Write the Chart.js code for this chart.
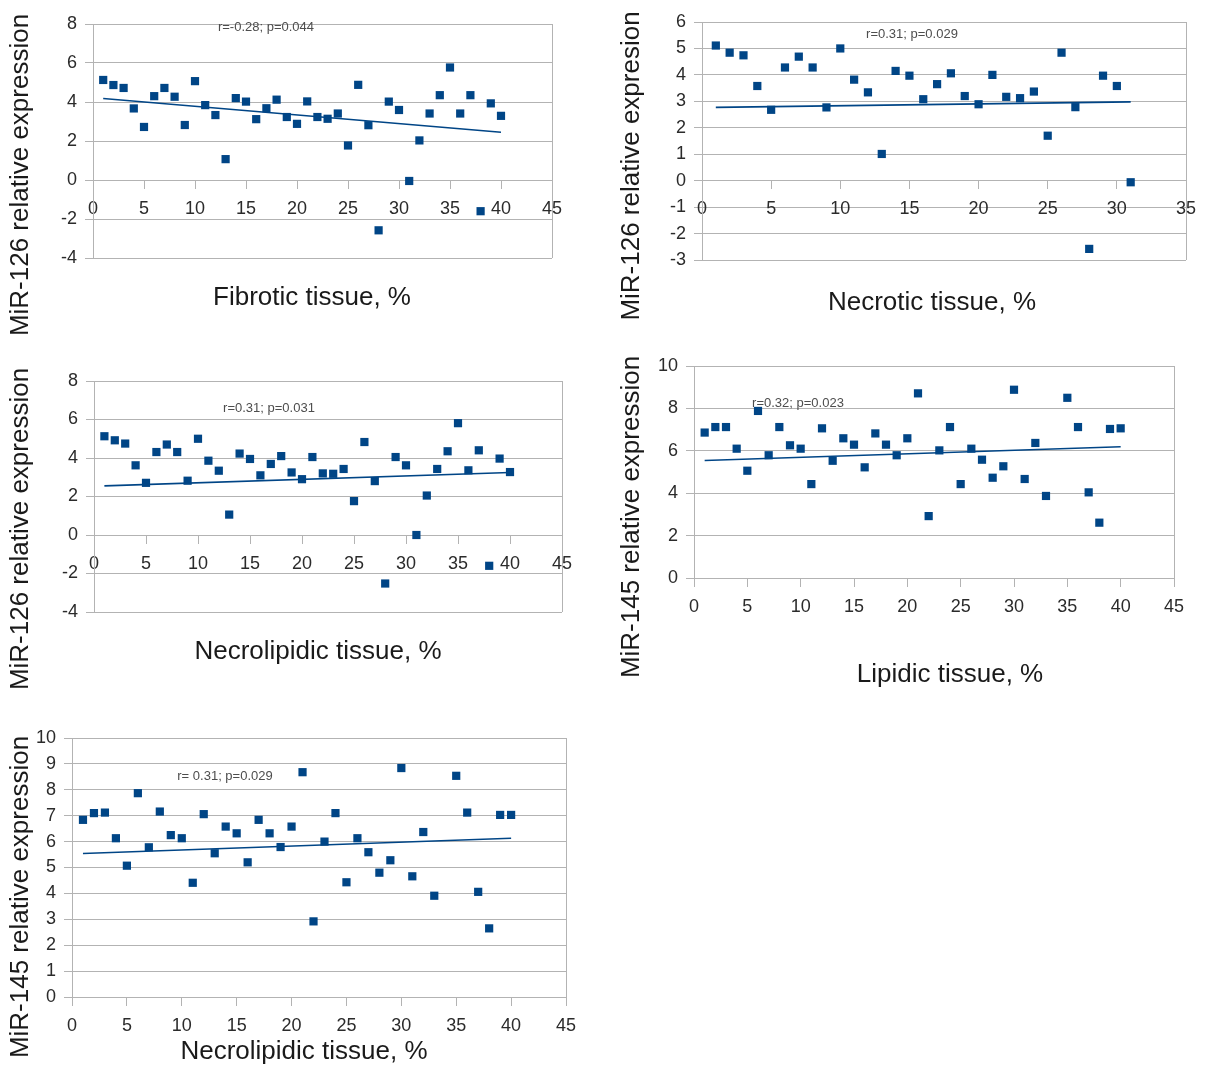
<!DOCTYPE html>
<html>
<head>
<meta charset="utf-8">
<script src="https://cdn.jsdelivr.net/npm/chart.js@4.4.1/dist/chart.umd.min.js"></script>
<style>
    html, body { margin: 0; padding: 0; background: #ffffff; }
    #page { position: relative; width: 1207px; height: 1068px; }
    #page canvas { position: absolute; left: 0; top: 0; }
</style>
</head>
<body>
<div id="page">
    <canvas id="fibrotic" width="1207" height="1068"></canvas>
    <canvas id="necrotic" width="1207" height="1068"></canvas>
    <canvas id="necrolipidic126" width="1207" height="1068"></canvas>
    <canvas id="lipidic" width="1207" height="1068"></canvas>
    <canvas id="necrolipidic145" width="1207" height="1068"></canvas>
</div>
<script>
// --- Data ---
const fibroticX = [1, 2, 3, 4, 5, 6, 7, 8, 9, 10, 11, 12, 13, 14, 15, 16, 17, 18, 19, 20,
    21, 22, 23, 24, 25, 26, 27, 28, 29, 30, 31, 32, 33, 34, 35, 36, 37, 38, 39, 40];
const fibroticMiR126 = [5.13, 4.87, 4.72, 3.67, 2.72, 4.3, 4.72, 4.27, 2.82, 5.07, 3.84, 3.33, 1.07, 4.2, 4.02,
    3.12, 3.68, 4.12, 3.23, 2.88, 4.03, 3.23, 3.14, 3.41, 1.77, 4.88, 2.81, -2.58, 4.02, 3.59,
    -0.05, 2.03, 3.41, 4.35, 5.77, 3.41, 4.35, -1.6, 3.93, 3.29];
const fibroticTrendX = [1, 40];
const fibroticTrendY = [4.18, 2.45];

const necroticX = [1, 2, 3, 4, 5, 6, 7, 8, 9, 10, 11, 12, 13, 14, 15, 16, 17, 18, 19, 20,
    21, 22, 23, 24, 25, 26, 27, 28, 29, 30, 31];
const necroticMiR126 = [5.11, 4.84, 4.74, 3.58, 2.68, 4.28, 4.69, 4.28, 2.77, 5.0, 3.82, 3.34, 1.01, 4.15, 3.97,
    3.08, 3.65, 4.06, 3.2, 2.89, 4.0, 3.17, 3.12, 3.37, 1.7, 4.84, 2.78, -2.58, 3.97, 3.58, -0.06];
const necroticTrendX = [1, 31];
const necroticTrendY = [2.77, 2.98];

const necrolipidicX = [1, 2, 3, 4, 5, 6, 7, 8, 9, 10, 11, 12, 13, 14, 15, 16, 17, 18, 19, 20,
    21, 22, 23, 24, 25, 26, 27, 28, 29, 30, 31, 32, 33, 34, 35, 36, 37, 38, 39, 40];
const necrolipidicMiR126 = [5.13, 4.92, 4.75, 3.62, 2.71, 4.31, 4.7, 4.31, 2.82, 5.0, 3.86, 3.34, 1.06, 4.23, 3.95,
    3.1, 3.69, 4.1, 3.25, 2.9, 4.05, 3.2, 3.18, 3.43, 1.76, 4.83, 2.8, -2.52, 4.05, 3.62,
    0.0, 2.05, 3.43, 4.35, 5.81, 3.36, 4.4, -1.6, 3.97, 3.27];
const necrolipidic126TrendX = [1, 40];
const necrolipidic126TrendY = [2.55, 3.25];

// x = 34 has no MiR-145 value in either panel
const mir145X = [1, 2, 3, 4, 5, 6, 7, 8, 9, 10, 11, 12, 13, 14, 15, 16, 17, 18, 19, 20,
    21, 22, 23, 24, 25, 26, 27, 28, 29, 30, 31, 32, 33, 35, 36, 37, 38, 39, 40];
const lipidicMiR145 = [6.86, 7.12, 7.12, 6.1, 5.06, 7.88, 5.79, 7.12, 6.26, 6.1, 4.43, 7.06, 5.53, 6.59, 6.29,
    5.22, 6.82, 6.29, 5.79, 6.59, 8.71, 2.92, 6.02, 7.12, 4.43, 6.1, 5.58, 4.73, 5.27, 8.88,
    4.67, 6.37, 3.87, 8.5, 7.12, 4.04, 2.61, 7.03, 7.06];
const lipidicTrendX = [1, 40];
const lipidicTrendY = [5.54, 6.19];

const necrolipidicMiR145 = [6.84, 7.1, 7.12, 6.13, 5.07, 7.87, 5.78, 7.16, 6.25, 6.13, 4.41, 7.06, 5.55, 6.58, 6.32,
    5.2, 6.84, 6.32, 5.79, 6.58, 8.68, 2.92, 6.0, 7.1, 4.43, 6.13, 5.59, 4.8, 5.28, 8.84,
    4.66, 6.37, 3.91, 8.54, 7.12, 4.06, 2.65, 7.03, 7.03];
const necrolipidic145TrendX = [1, 40];
const necrolipidic145TrendY = [5.54, 6.13];

// --- Styling ---
const BLUE = '#004586';
const GRID = '#b3b3b3';
const FONT = "'Liberation Sans', Arial, sans-serif";
const Y_BOX = 60; // fixed width of the y scale box

// draws axis titles and the r/p notes at page coordinates
const notesPlugin = {
    id: 'notes',
    afterDraw(chart, args, opts) {
        const ctx = chart.ctx;
        (opts.items || []).forEach(it => {
            ctx.save();
            ctx.font = it.font;
            ctx.fillStyle = it.color;
            ctx.textAlign = 'center';
            ctx.textBaseline = 'middle';
            ctx.translate(it.x, it.y);
            if (it.rotate) ctx.rotate(-Math.PI / 2);
            ctx.fillText(it.text, 0, 0);
            ctx.restore();
        });
    }
};

function toPoints(xs, ys) {
    return xs.map((x, i) => ({ x: x, y: ys[i] }));
}

function makePanel(id, p) {
    const ctx = document.getElementById(id).getContext('2d');
    return new Chart(ctx, {
        type: 'scatter',
        data: {
            datasets: [{
                data: toPoints(p.xs, p.ys),
                backgroundColor: BLUE,
                borderWidth: 0,
                pointStyle: 'rect',
                pointRadius: 5.8,
                pointHoverRadius: 5.8
            }, {
                type: 'line',
                data: toPoints(p.trendX, p.trendY),
                borderColor: BLUE,
                borderWidth: 1.6,
                pointRadius: 0,
                fill: false
            }]
        },
        options: {
            responsive: false,
            animation: false,
            events: [],
            layout: {
                padding: {
                    left: p.area.left - Y_BOX,
                    top: p.area.top,
                    right: 1207 - p.area.right,
                    bottom: 1068 - p.area.bottom
                }
            },
            plugins: {
                legend: { display: false },
                tooltip: { enabled: false },
                notes: {
                    items: [
                        { text: p.yTitle, x: p.yTitlePos[0], y: p.yTitlePos[1], rotate: true, font: '26px ' + FONT, color: '#1a1a1a' },
                        { text: p.xTitle, x: p.xTitlePos[0], y: p.xTitlePos[1], font: '26px ' + FONT, color: '#1a1a1a' },
                        { text: p.note, x: p.notePos[0], y: p.notePos[1], font: '13px ' + FONT, color: '#4d4d4d' }
                    ]
                }
            },
            scales: {
                x: {
                    type: 'linear',
                    position: { y: 0 },
                    min: 0,
                    max: p.xMax,
                    ticks: { stepSize: 5, color: '#2b2b2b', font: { family: FONT, size: 18 }, padding: 10 },
                    grid: {
                        color: c => (c.tick && c.tick.value === p.xMax) ? GRID : 'rgba(0,0,0,0)',
                        tickColor: GRID,
                        tickLength: 8
                    },
                    border: { color: GRID }
                },
                y: {
                    type: 'linear',
                    position: 'left',
                    min: p.yMin,
                    max: p.yMax,
                    ticks: { stepSize: p.yStep, color: '#2b2b2b', font: { family: FONT, size: 18 }, padding: 8 },
                    grid: { color: GRID, tickLength: 8 },
                    border: { color: GRID },
                    afterFit: s => { s.width = Y_BOX; }
                }
            }
        },
        plugins: [notesPlugin]
    });
}

makePanel('fibrotic', {
    xs: fibroticX, ys: fibroticMiR126, trendX: fibroticTrendX, trendY: fibroticTrendY,
    xMax: 45, yMin: -4, yMax: 8, yStep: 2,
    area: { left: 93, top: 24, right: 552, bottom: 258 },
    yTitle: 'MiR-126 relative expression', yTitlePos: [21, 175],
    xTitle: 'Fibrotic tissue, %', xTitlePos: [312, 298],
    note: 'r=-0.28; p=0.044', notePos: [266, 27]
});

makePanel('necrotic', {
    xs: necroticX, ys: necroticMiR126, trendX: necroticTrendX, trendY: necroticTrendY,
    xMax: 35, yMin: -3, yMax: 6, yStep: 1,
    area: { left: 702, top: 22, right: 1186, bottom: 260 },
    yTitle: 'MiR-126 relative expresion', yTitlePos: [632, 166],
    xTitle: 'Necrotic tissue, %', xTitlePos: [932, 303],
    note: 'r=0.31; p=0.029', notePos: [912, 34]
});

makePanel('necrolipidic126', {
    xs: necrolipidicX, ys: necrolipidicMiR126, trendX: necrolipidic126TrendX, trendY: necrolipidic126TrendY,
    xMax: 45, yMin: -4, yMax: 8, yStep: 2,
    area: { left: 94, top: 381, right: 562, bottom: 612 },
    yTitle: 'MiR-126 relative expression', yTitlePos: [21, 529],
    xTitle: 'Necrolipidic tissue, %', xTitlePos: [318, 652],
    note: 'r=0.31; p=0.031', notePos: [269, 408]
});

makePanel('lipidic', {
    xs: mir145X, ys: lipidicMiR145, trendX: lipidicTrendX, trendY: lipidicTrendY,
    xMax: 45, yMin: 0, yMax: 10, yStep: 2,
    area: { left: 694, top: 366, right: 1174, bottom: 578 },
    yTitle: 'MiR-145 relative expression', yTitlePos: [632, 517],
    xTitle: 'Lipidic tissue, %', xTitlePos: [950, 675],
    note: 'r=0.32; p=0.023', notePos: [798, 403]
});

makePanel('necrolipidic145', {
    xs: mir145X, ys: necrolipidicMiR145, trendX: necrolipidic145TrendX, trendY: necrolipidic145TrendY,
    xMax: 45, yMin: 0, yMax: 10, yStep: 1,
    area: { left: 72, top: 738, right: 566, bottom: 997 },
    yTitle: 'MiR-145 relative expression', yTitlePos: [21, 897],
    xTitle: 'Necrolipidic tissue, %', xTitlePos: [304, 1052],
    note: 'r= 0.31; p=0.029', notePos: [225, 776]
});
</script>
</body>
</html>
